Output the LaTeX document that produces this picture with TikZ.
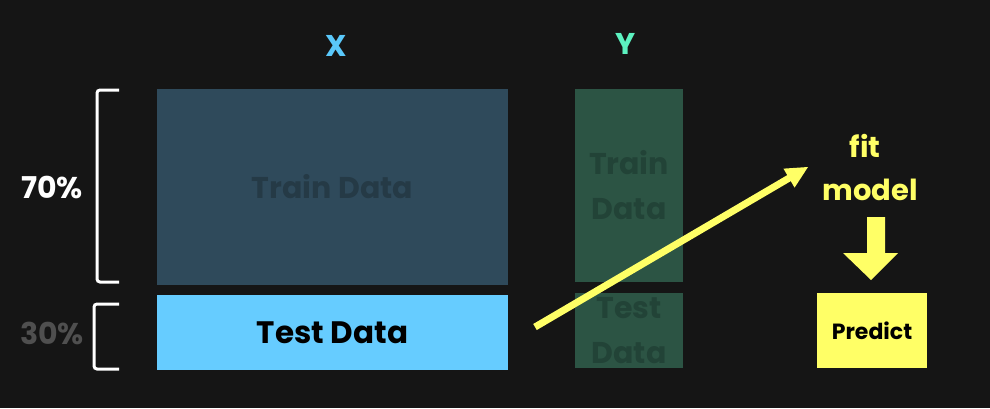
\documentclass[tikz,border=0pt]{standalone}
\usepackage{fontspec}
\setmainfont{Poppins}
\usetikzlibrary{calc}
\definecolor{bg}{HTML}{151515}
\definecolor{trainx}{HTML}{2F4A5B}
\definecolor{trainxt}{HTML}{253A46}
\definecolor{testx}{HTML}{66CCFF}
\definecolor{trainy}{HTML}{2C5444}
\definecolor{trainyt}{HTML}{224337}
\definecolor{yel}{HTML}{FFFF66}
\definecolor{xlab}{HTML}{5AC8FA}
\definecolor{ylab}{HTML}{5CF2C0}
\definecolor{gray30}{HTML}{4F4F4F}
\newcommand{\fs}[2]{\fontsize{#1}{#2}\selectfont\bfseries}
\begin{document}
\begin{tikzpicture}[x=1pt,y=-1pt,
  box/.style={inner sep=0pt, outer sep=0pt, anchor=north west},
  bracket/.style={draw=white, line width=3pt, rounded corners=3pt},
  lab/.style={inner sep=0pt, align=center}]
\fill[bg] (0,0) rectangle (990,408);
\useasboundingbox (0,0) rectangle (990,408);
% column labels
\node[lab, text=xlab, font=\fs{30}{34}] (xl) at (336,46) {X};
\node[lab, text=ylab, font=\fs{30}{34}] (yl) at (626,44) {Y};
% X boxes
\node[box, fill=trainx, minimum width=351pt, minimum height=196pt] (trx) at (157,89) {};
\node[lab, text=trainxt, font=\fs{30}{34}] at (trx.center) {Train Data};
\node[box, fill=testx, minimum width=351pt, minimum height=75pt] (tex) at (157,295) {};
\node[lab, text=black, font=\fs{31}{35}] at (tex.center) {Test Data};
% Y boxes
\node[box, fill=trainy, minimum width=108pt, minimum height=193pt] (try) at (575,89) {};
\node[lab, text=trainyt, font=\fs{30}{45}] at (try.center) {Train\\Data};
\node[box, fill=trainy, minimum width=108pt, minimum height=75pt] (tey) at (575,293) {};
\node[lab, text=trainyt, font=\fs{30}{45}] at (tey.center) {Test\\Data};
% brackets and percentages
\draw[bracket] (119,90) -- (97,90) -- (97,282) -- (119,282);
\draw[bracket] (119,304) -- (94,304) -- (94,369) -- (119,369);
\node[lab, text=white, font=\fs{30}{34}] (p70) at (52,187) {70\%};
\node[lab, text=gray30, font=\fs{30}{34}] (p30) at (52,333) {30\%};
% fit model
\node[lab, text=yel, font=\fs{29}{33}] (fit) at (865,146) {fit};
\node[lab, text=yel, font=\fs{29}{33}] (model) at (870,190) {model};
% predict
\node[box, fill=yel, minimum width=110pt, minimum height=75pt] (pred) at (817,293) {};
\node[lab, text=black, font=\fs{22}{26}] at (pred.center) {Predict};
% block arrow down
\fill[yel] (867,217) -- (885,217) -- (885,253) -- (898,253) -- (871,280) -- (843,253) -- (867,253) -- cycle;
% yellow arrow
\coordinate (a0) at (535,327);
\coordinate (a1) at (808,167);
\coordinate (hb) at ($(a1)!22pt!(a0)$);
\draw[yel, line width=7pt] (a0) -- ($(a1)!18pt!(a0)$);
\fill[yel] (a1) -- ($(hb)!11pt!90:(a1)$) -- ($(hb)!11pt!-90:(a1)$) -- cycle;
\end{tikzpicture}
\end{document}
